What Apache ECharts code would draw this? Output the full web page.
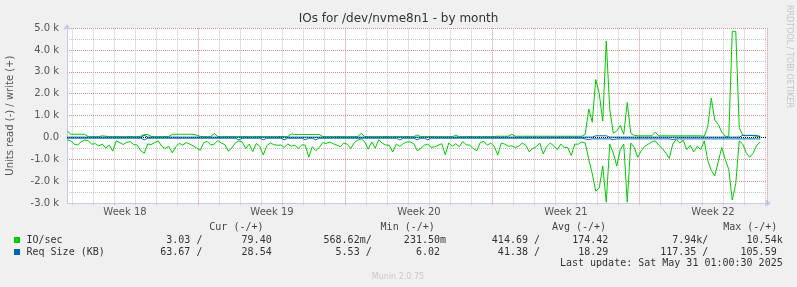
<!DOCTYPE html>
<html><head><meta charset="utf-8">
<script src="https://cdn.jsdelivr.net/npm/echarts@6/dist/echarts.min.js"></script>
<style>html,body{margin:0;padding:0;background:#F0F0F0;}#c{width:797px;height:287px;}</style>
</head><body><div id="c"></div>
<script>
// ---- data (time in days relative to start of Week 19; one sample every 4 hours) ----
const startDay = -6.25;
const stepDay = 1 / 6;
const xMin = -6.2619, xMax = 27.0714;

// IO/sec read (drawn negative) and write (positive)
const ioRead = [
 100,150,300,340,185,110,150,300,280,380,
 300,480,340,620,150,230,320,220,185,320,
 340,600,720,290,320,230,150,400,500,400,
 700,420,260,340,230,300,380,480,580,230,
 180,340,300,130,250,320,620,480,250,150,
 200,500,300,640,270,400,800,380,250,320,
 350,340,450,290,400,340,500,330,350,900,
 420,600,450,230,270,200,280,340,420,250,
 300,500,230,120,60,200,530,200,480,100,
 260,340,350,660,300,400,280,200,200,280,
 600,500,350,300,450,420,350,280,780,250,
 400,280,420,180,330,350,500,600,230,170,
 350,250,400,800,250,300,400,380,450,400,
 250,350,650,500,420,250,750,400,250,380,
 550,300,450,450,820,300,300,200,250,1000,
 1650,2450,2300,1300,2950,300,700,1300,550,300,
 2950,250,450,900,600,400,300,200,150,350,
 500,700,950,300,80,250,120,550,350,650,
 400,550,150,1050,1500,1750,1100,450,1000,1450,
 2850,2100,150,300,700,900,700,350,200
];
const ioWrite = [
 300,150,150,150,150,150,40,40,40,40,
 80,60,40,40,50,40,40,40,50,40,
 40,60,140,140,50,40,40,40,50,40,
 150,150,150,150,150,150,150,110,50,40,
 40,40,190,50,40,40,50,40,40,40,
 40,50,40,40,40,50,40,40,40,40,
 40,50,40,40,170,140,140,140,140,140,
 140,140,140,50,40,40,40,50,40,40,
 40,40,40,50,190,50,40,40,40,40,
 40,50,40,40,40,40,40,50,40,40,
 120,40,40,40,50,40,40,40,40,40,
 40,100,40,40,40,50,40,40,40,40,
 40,40,50,60,60,60,60,150,60,60,
 60,60,60,60,60,60,60,60,60,60,
 60,60,60,60,60,60,60,60,150,1300,
 700,2650,2000,750,4400,1300,200,300,550,150,
 1600,200,100,80,80,80,80,80,250,80,
 80,80,80,80,80,80,80,80,80,80,
 80,80,60,500,1800,800,600,250,60,50,
 4850,4850,450,100,80,100,80,50,60
];
// Req Size (KB) read (drawn negative) and write (positive)
const reqRead = [
 30,30,30,30,30,30,30,30,30,30,
 30,30,30,30,30,30,30,30,30,30,
 30,30,100,30,30,30,30,30,30,30,
 30,30,30,30,30,30,30,30,30,30,
 30,30,30,30,30,30,30,30,30,100,
 30,30,30,30,30,30,100,30,30,30,
 30,30,100,30,30,30,30,30,100,30,
 30,100,30,30,30,30,30,30,30,30,
 30,30,30,30,30,30,30,30,30,30,
 30,30,30,30,30,100,30,30,30,30,
 100,30,30,100,30,30,30,30,30,30,
 30,30,30,30,30,30,30,30,30,30,
 30,30,30,30,30,30,30,30,30,30,
 30,30,30,30,30,30,30,30,30,30,
 30,30,30,30,30,30,30,30,60,90,
 60,60,60,60,60,60,90,60,60,60,
 60,60,60,60,60,60,60,60,60,60,
 60,60,60,90,60,60,60,60,60,60,
 60,60,60,60,60,60,60,60,60,60,
 60,60,60,60,60,60,60,60,60
];
const reqWrite = [
 20,20,20,20,20,20,20,20,20,20,
 20,20,20,20,20,20,20,20,20,20,
 20,20,100,20,20,20,20,20,20,20,
 20,20,20,20,20,20,20,20,20,20,
 20,20,20,20,20,20,20,20,20,20,
 20,20,20,20,20,20,20,20,20,20,
 20,20,20,20,20,20,20,20,20,20,
 20,20,20,20,20,20,20,20,20,20,
 20,20,20,20,20,20,20,20,20,20,
 20,20,20,20,20,20,20,20,20,20,
 20,20,20,20,20,20,20,20,20,20,
 20,20,20,20,20,20,20,20,20,20,
 20,20,20,20,20,20,20,20,20,20,
 20,20,20,20,20,20,20,20,20,20,
 20,20,20,20,20,20,20,20,20,20,
 20,80,80,80,80,20,20,20,20,20,
 20,20,20,20,20,20,20,20,20,20,
 20,20,20,20,20,20,20,20,20,20,
 20,20,20,20,20,20,20,20,20,20,
 20,20,20,100,100,100,100,100,40
];

// axis / grid values
const weekStarts = [0, 7, 14, 21];
const dayLines = [];
for (let d = -6; d <= 27; d++) if (weekStarts.indexOf(d) < 0) dayLines.push(d);
const allDays = [];
for (let d = -6; d <= 27; d++) allDays.push(d);
const weekLabelPos = [-3.5, 3.5, 10.5, 17.5, 24.5];
const weekLabels = ['Week 18', 'Week 19', 'Week 20', 'Week 21', 'Week 22'];

// legend table
const legendNames = ['IO/sec', 'Req Size (KB)'];
const legendColors = ['#00CC00', '#0066B3'];
const legendHeaders = ['Cur (-/+)', 'Min (-/+)', 'Avg (-/+)', 'Max (-/+)'];
const curR = ['3.03 /', '63.67 /'], curW = ['79.40 ', '28.54 '];
const minR = ['568.62m/', '5.53 /'], minW = ['231.50m', '6.02 '];
const avgR = ['414.69 /', '41.38 /'], avgW = ['174.42 ', '18.29 '];
const maxR = ['7.94k/', '117.35 /'], maxW = ['10.54k', '105.59 '];
const lastUpdate = 'Last update: Sat May 31 01:00:30 2025';

// ---- chart ----
const majorC = '#e08c8c', minorC = '#c4c4c4', axisC = '#c6c8ec';
const SANS = 'DejaVu Sans', MONO = 'DejaVu Sans Mono';
const toXY = (arr, sign) => arr.map((v, i) => [startDay + i * stepDay, sign * v]);

const chart = echarts.init(document.getElementById('c'), null, {renderer: 'canvas'});

const graphics = [];
graphics.push({type:'text', x:398.5, y:19, style:{text:'IOs for /dev/nvme8n1 - by month', font:'12px "'+SANS+'"', fill:'#333', align:'center', verticalAlign:'middle', textAlign:'center', textVerticalAlign:'middle'}});
graphics.push({type:'text', x:789, y:5, rotation:-Math.PI/2, style:{text:'RRDTOOL / TOBI OETIKER', font:'8px "'+SANS+'"', fill:'#c4c4c4', align:'left', verticalAlign:'middle', textAlign:'left', textVerticalAlign:'middle'}});
graphics.push({type:'text', x:398, y:277, style:{text:'Munin 2.0.75', font:'8px "'+SANS+'"', fill:'#c8c8c8', align:'center', verticalAlign:'middle', textAlign:'center', textVerticalAlign:'middle'}});
const hdrX = [209.3, 380.6, 551.9, 723.2];
legendHeaders.forEach((h, k) => graphics.push({type:'text', x:hdrX[k], y:227.5, style:{text:h, font:'10px "'+MONO+'"', fill:'#444', align:'left', verticalAlign:'middle', textAlign:'left', textVerticalAlign:'middle'}}));
const readEnd = [202.4, 371.7, 540.0, 708.3];
const writeEnd = [277.7, 446.0, 614.3, 782.7];
const rowY = [240, 252];
const cols = [[curR, curW], [minR, minW], [avgR, avgW], [maxR, maxW]];
legendNames.forEach((n, r) => {
  graphics.push({type:'rect', shape:{x:14, y:rowY[r]-3, width:6, height:6}, style:{fill:legendColors[r]}});
  graphics.push({type:'text', x:26.5, y:rowY[r], style:{text:n, font:'10px "'+MONO+'"', fill:'#333', align:'left', verticalAlign:'middle', textAlign:'left', textVerticalAlign:'middle'}});
  cols.forEach((c, k) => {
    graphics.push({type:'text', x:readEnd[k], y:rowY[r], style:{text:c[0][r], font:'10px "'+MONO+'"', fill:'#333', align:'right', verticalAlign:'middle', textAlign:'right', textVerticalAlign:'middle'}});
    graphics.push({type:'text', x:writeEnd[k], y:rowY[r], style:{text:c[1][r], font:'10px "'+MONO+'"', fill:'#333', align:'right', verticalAlign:'middle', textAlign:'right', textVerticalAlign:'middle'}});
  });
});
graphics.push({type:'text', x:782.7, y:263.5, style:{text:lastUpdate, font:'10px "'+MONO+'"', fill:'#333', align:'right', verticalAlign:'middle', textAlign:'right', textVerticalAlign:'middle'}});

const option = {
  animation: false,
  backgroundColor: '#F0F0F0',
  textStyle: {fontFamily: SANS},
  grid: {left: 67, right: 30, top: 28, bottom: 83.7, show: true, backgroundColor: '#ffffff', borderWidth: 0, containLabel: false, outerBoundsMode: 'none'},
  xAxis: {
    type: 'value', min: xMin, max: xMax,
    axisLine: {show: true, onZero: false, lineStyle: {color: axisC, width: 1}, symbol: ['none', 'arrow'], symbolSize: [6, 6], symbolOffset: [0, 4]},
    axisTick: {show: true, customValues: allDays, length: 2, lineStyle: {color: '#cfcfcf'}},
    axisLabel: {customValues: weekLabelPos, margin: 4, fontSize: 10, color: '#555', fontFamily: SANS,
      formatter: v => { let b = 0; weekLabelPos.forEach((p, k) => { if (Math.abs(p - v) < Math.abs(weekLabelPos[b] - v)) b = k; }); return weekLabels[b]; }},
    splitLine: {show: false}
  },
  yAxis: {
    type: 'value', min: -3000, max: 5000, interval: 1000,
    name: 'Units read (-) / write (+)', nameLocation: 'middle', nameGap: 52,
    nameTextStyle: {fontSize: 10, color: '#555', fontFamily: SANS},
    axisLine: {show: true, onZero: false, lineStyle: {color: axisC, width: 1}, symbol: ['none', 'arrow'], symbolSize: [6, 6], symbolOffset: [0, 4]},
    axisTick: {show: false},
    axisLabel: {margin: 8, fontSize: 10, color: '#555', fontFamily: SANS,
      formatter: v => v === 0 ? '0.0' : (v / 1000).toFixed(1) + ' k'},
    splitLine: {show: true, lineStyle: {color: majorC, type: [1, 1], width: 1}},
    minorTick: {show: false, splitNumber: 2},
    minorSplitLine: {show: true, lineStyle: {color: minorC, type: [1, 1], width: 1}}
  },
  series: [
    {type: 'line', data: [], silent: true, z: 1,
     markLine: {silent: true, z: 1, animation: false, symbol: ['none', 'none'], label: {show: false},
       data: dayLines.map(d => ({xAxis: d, lineStyle: {color: minorC, type: [1, 1], width: 1}}))
         .concat(weekStarts.map(d => ({xAxis: d, lineStyle: {color: majorC, type: [1, 1], width: 1}})))
         .concat([{xAxis: xMax, lineStyle: {color: majorC, type: [1, 1], width: 1}}])}},
    {type: 'line', data: [], silent: true, z: 2,
     markLine: {silent: true, z: 2, animation: false, symbol: ['none', 'none'], label: {show: false},
       data: [{yAxis: 0, lineStyle: {color: '#000', type: [1, 1], width: 1}}]}},
    {name: 'IO/sec read', type: 'line', data: toXY(ioRead, -1), showSymbol: false, z: 3,
     lineStyle: {color: '#00CC00', width: 1}, itemStyle: {color: '#00CC00'}},
    {name: 'IO/sec write', type: 'line', data: toXY(ioWrite, 1), showSymbol: false, z: 3,
     lineStyle: {color: '#00CC00', width: 1}, itemStyle: {color: '#00CC00'}},
    {name: 'Req Size read', type: 'line', data: toXY(reqRead, -1), showSymbol: false, z: 4,
     lineStyle: {color: '#0066B3', width: 1}, itemStyle: {color: '#0066B3'}},
    {name: 'Req Size write', type: 'line', data: toXY(reqWrite, 1), showSymbol: false, z: 4,
     lineStyle: {color: '#0066B3', width: 1}, itemStyle: {color: '#0066B3'}}
  ],
  graphic: graphics
};
chart.setOption(option);
</script></body></html>
